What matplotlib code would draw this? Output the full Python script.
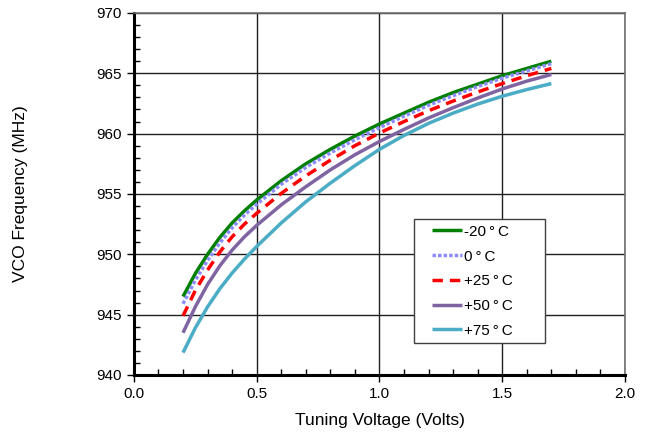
import matplotlib.pyplot as plt
from matplotlib.ticker import MultipleLocator
from matplotlib.lines import Line2D
from matplotlib.legend_handler import HandlerLine2D

# Tuning voltage (V)
volts = [0.2, 0.25, 0.3, 0.35, 0.4, 0.45, 0.5, 0.6, 0.7, 0.8, 0.9, 1.0,
         1.1, 1.2, 1.3, 1.4, 1.5, 1.6, 1.7]

# VCO frequency (MHz) per temperature
f_m20 = [946.5, 948.4, 950.0, 951.4, 952.6, 953.6, 954.5, 956.1, 957.5, 958.7,
         959.8, 960.8, 961.7, 962.6, 963.4, 964.1, 964.8, 965.4, 966.0]
f_0 = [945.9, 947.85, 949.5, 950.95, 952.2, 953.25, 954.15, 955.8, 957.2, 958.4,
       959.5, 960.5, 961.45, 962.35, 963.15, 963.9, 964.6, 965.2, 965.8]
f_25 = [944.9, 947.0, 948.7, 950.2, 951.45, 952.5, 953.4, 955.05, 956.5, 957.8,
        959.0, 960.05, 961.0, 961.9, 962.7, 963.45, 964.15, 964.8, 965.4]
f_50 = [943.5, 945.65, 947.5, 949.05, 950.35, 951.45, 952.4, 954.1, 955.6, 957.0,
        958.25, 959.35, 960.35, 961.3, 962.15, 962.95, 963.7, 964.35, 964.9]
f_75 = [941.85, 943.9, 945.65, 947.15, 948.45, 949.6, 950.65, 952.6, 954.35, 955.9,
        957.35, 958.7, 959.85, 960.85, 961.7, 962.45, 963.1, 963.65, 964.15]

etiquetas = ["-20\u2009°\u2009C", "0\u2009°\u2009C", "+25\u2009°\u2009C",
             "+50\u2009°\u2009C", "+75\u2009°\u2009C"]

plt.rcParams["font.family"] = ["Liberation Sans", "DejaVu Sans"]

fig = plt.figure(figsize=(6.47, 4.32), dpi=100)
ax = fig.add_axes([0.207, 0.132, 0.759, 0.838])

estilo = dict(lw=2.5, solid_joinstyle="round", solid_capstyle="butt")
ax.plot(volts, f_m20, color="#008000", label=etiquetas[0], **estilo)
ax.plot(volts, f_0, color="#8c8cff", ls=(0, (1, 0.6)), label=etiquetas[1], **estilo)
ax.plot(volts, f_25, color="#ff0000", ls=(0, (3, 2)), label=etiquetas[2], **estilo)
ax.plot(volts, f_50, color="#8064a2", label=etiquetas[3], **estilo)
ax.plot(volts, f_75, color="#4bacc6", label=etiquetas[4], **estilo)

ax.set_xlim(0, 2.0)
ax.set_ylim(940, 970)
ax.xaxis.set_major_locator(MultipleLocator(0.5))
ax.xaxis.set_minor_locator(MultipleLocator(0.1))
ax.yaxis.set_major_locator(MultipleLocator(5))
ax.yaxis.set_minor_locator(MultipleLocator(1))
ax.xaxis.set_major_formatter(plt.FormatStrFormatter("%.1f"))

ax.grid(True, which="major", color="#202020", lw=1)
ax.set_axisbelow(True)
ax.tick_params(which="major", direction="out", length=5, width=1, labelsize=11)
ax.tick_params(which="minor", direction="in", length=4, width=1)

for s in ["left", "bottom"]:
    ax.spines[s].set_linewidth(2.2)
    ax.spines[s].set_color("black")
for s in ["top", "right"]:
    ax.spines[s].set_linewidth(1.2)
    ax.spines[s].set_color("#707070")

ax.set_xlabel("Tuning Voltage (Volts)", fontsize=12.5)
ax.set_ylabel("VCO Frequency (MHz)", fontsize=12.5)
ax.xaxis.set_label_coords(0.5, -0.105)
ax.yaxis.set_label_coords(-0.216, 0.5)

leg = ax.legend(loc="lower left", bbox_to_anchor=(0.57, 0.088, 0.267, 0.35),
                mode="expand", fontsize=11,
                frameon=True, fancybox=False, handlelength=2.78, handletextpad=0.13,
                borderpad=0.36, labelspacing=0.7, borderaxespad=0,
                handler_map={Line2D: HandlerLine2D(xpad=0.82)})
leg.get_frame().set_edgecolor("#404040")
leg.get_frame().set_linewidth(1)
leg.get_frame().set_alpha(1)

fig.savefig("out.png", dpi=100)
